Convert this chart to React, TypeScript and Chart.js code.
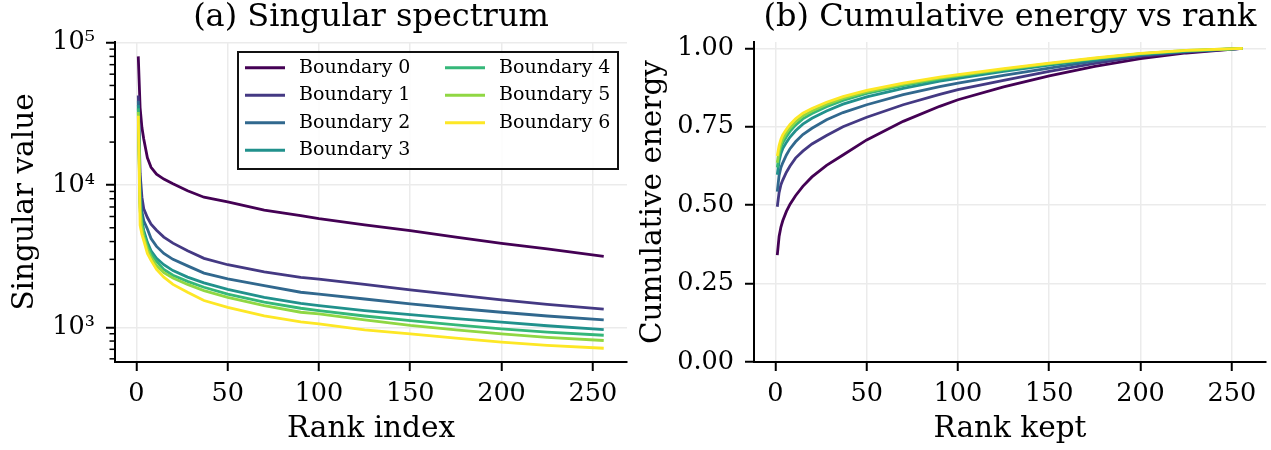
import React, { useEffect, useRef } from 'react';
import { Chart, registerables } from 'chart.js';

Chart.register(...registerables);

const FONT = '"DejaVu Serif", serif';

const RANKS = [1, 2, 3, 4, 6, 8, 11, 15, 20, 28, 37, 50, 70, 90, 100, 125, 150, 175, 200, 225, 256];

const LABELS = ['Boundary 0', 'Boundary 1', 'Boundary 2', 'Boundary 3', 'Boundary 4', 'Boundary 5', 'Boundary 6'];
const COLORS = ['#440154', '#443983', '#31688e', '#21918c', '#35b779', '#90d743', '#fde725'];

// (a) Singular values per boundary
const SV_B0 = [80000, 35000, 25300, 21000, 15500, 13300, 11900, 11000, 10200, 9100, 8200, 7600, 6650, 6080, 5800, 5250, 4780, 4300, 3890, 3550, 3150];
const SV_B1 = [42500, 12000, 8200, 6800, 5900, 5300, 4800, 4300, 3900, 3450, 3050, 2750, 2450, 2245, 2180, 2000, 1830, 1690, 1560, 1450, 1340];
const SV_B2 = [39000, 9000, 6500, 5600, 4900, 4200, 3700, 3300, 3000, 2700, 2400, 2190, 1960, 1762, 1710, 1580, 1460, 1360, 1275, 1200, 1125];
const SV_B3 = [36500, 7600, 5600, 4800, 3950, 3450, 3050, 2750, 2500, 2250, 2050, 1845, 1620, 1470, 1420, 1310, 1225, 1150, 1085, 1025, 963];
const SV_B4 = [34500, 7100, 5300, 4550, 3750, 3280, 2900, 2550, 2320, 2100, 1910, 1710, 1500, 1360, 1310, 1200, 1114, 1040, 975, 925, 879];
const SV_B5 = [32500, 6600, 5000, 4300, 3550, 3100, 2700, 2420, 2220, 2000, 1811, 1620, 1420, 1275, 1242, 1125, 1030, 960, 898, 850, 807];
const SV_B6 = [30600, 5200, 4500, 4070, 3300, 2950, 2550, 2250, 2000, 1760, 1542, 1380, 1200, 1090, 1056, 960, 898, 840, 785, 745, 712];

// (b) Cumulative energy per boundary
const CE_B0 = [0.341, 0.40, 0.43, 0.45, 0.48, 0.503, 0.53, 0.56, 0.59, 0.627, 0.66, 0.708, 0.767, 0.815, 0.836, 0.877, 0.912, 0.942, 0.967, 0.985, 1.0];
const CE_B1 = [0.495, 0.54, 0.565, 0.58, 0.605, 0.625, 0.65, 0.672, 0.695, 0.722, 0.75, 0.78, 0.82, 0.853, 0.868, 0.898, 0.926, 0.952, 0.974, 0.988, 1.0];
const CE_B2 = [0.543, 0.595, 0.62, 0.635, 0.66, 0.68, 0.702, 0.725, 0.745, 0.772, 0.795, 0.82, 0.852, 0.878, 0.889, 0.914, 0.937, 0.959, 0.978, 0.99, 1.0];
const CE_B3 = [0.597, 0.64, 0.665, 0.68, 0.70, 0.717, 0.737, 0.758, 0.777, 0.80, 0.822, 0.845, 0.872, 0.895, 0.904, 0.926, 0.946, 0.964, 0.98, 0.991, 1.0];
const CE_B4 = [0.62, 0.66, 0.683, 0.698, 0.718, 0.735, 0.755, 0.775, 0.792, 0.814, 0.834, 0.856, 0.881, 0.902, 0.911, 0.931, 0.95, 0.967, 0.982, 0.992, 1.0];
const CE_B5 = [0.635, 0.673, 0.695, 0.71, 0.73, 0.746, 0.765, 0.784, 0.80, 0.821, 0.84, 0.861, 0.885, 0.905, 0.913, 0.933, 0.951, 0.968, 0.983, 0.993, 1.0];
const CE_B6 = [0.657, 0.69, 0.71, 0.724, 0.742, 0.757, 0.775, 0.793, 0.808, 0.828, 0.846, 0.866, 0.889, 0.908, 0.916, 0.935, 0.953, 0.969, 0.984, 0.993, 1.0];

const SV_SERIES = [SV_B0, SV_B1, SV_B2, SV_B3, SV_B4, SV_B5, SV_B6];
const CE_SERIES = [CE_B0, CE_B1, CE_B2, CE_B3, CE_B4, CE_B5, CE_B6];

const X_TICKS = [0, 50, 100, 150, 200, 250];
const SV_TICKS = [1000, 10000, 100000];
const SV_TICK_LABELS = ['10³', '10⁴', '10⁵'];
const CE_TICKS = [0, 0.25, 0.5, 0.75, 1.0];

const GRID_COLOR = '#ebebeb';
const TICK_SIZE = 25.5;
const LABEL_SIZE = 29.5;
const TITLE_SIZE = 32;

function makeDatasets(series: number[][]) {
  return series.map((vals, i) => ({
    label: LABELS[i],
    data: RANKS.map((r, j) => ({ x: r, y: vals[j] })),
    borderColor: COLORS[i],
    backgroundColor: COLORS[i],
    borderWidth: 2.8,
    pointRadius: 0,
    tension: 0,
    fill: false,
    order: series.length - 1 - i,
  }));
}

const minorTicksPlugin = {
  id: 'minorTicks',
  afterDraw(chart: any) {
    const s = chart.scales.y;
    const ctx = chart.ctx;
    ctx.save();
    ctx.strokeStyle = '#000';
    ctx.lineWidth = 1.5;
    for (let e = 2; e <= 5; e++) {
      for (let m = 2; m <= 9; m++) {
        const v = m * Math.pow(10, e);
        if (v < s.min || v > s.max) continue;
        const y = s.getPixelForValue(v);
        ctx.beginPath();
        ctx.moveTo(s.right - 5.5, y);
        ctx.lineTo(s.right, y);
        ctx.stroke();
      }
    }
    ctx.restore();
  },
};

const columnLegendPlugin = {
  id: 'columnLegend',
  afterDatasetsDraw(chart: any) {
    const { ctx, chartArea } = chart;
    const ds = chart.data.datasets;
    const w = 380;
    const h = 117;
    const left = chartArea.right - 9 - w;
    const top = chartArea.top + 10;
    ctx.save();
    ctx.fillStyle = 'rgba(255,255,255,0.9)';
    ctx.fillRect(left, top, w, h);
    ctx.strokeStyle = '#111';
    ctx.lineWidth = 2;
    ctx.strokeRect(left, top, w, h);
    ctx.font = '19px ' + FONT;
    ctx.textBaseline = 'middle';
    ctx.textAlign = 'left';
    ds.forEach((d: any, i: number) => {
      const col = Math.floor(i / 4);
      const row = i % 4;
      const x0 = left + 7 + col * 200;
      const y = top + 15.7 + row * 27.5;
      ctx.strokeStyle = d.borderColor;
      ctx.lineWidth = 3;
      ctx.beginPath();
      ctx.moveTo(x0, y);
      ctx.lineTo(x0 + 40, y);
      ctx.stroke();
      ctx.fillStyle = '#000';
      ctx.fillText(d.label, x0 + 54, y);
    });
    ctx.restore();
  },
};

function xScale(title: string) {
  return {
    type: 'linear',
    min: -11.75,
    max: 268.75,
    afterBuildTicks: (s: any) => {
      s.ticks = X_TICKS.map((v) => ({ value: v }));
    },
    afterFit: (s: any) => {
      s.height = 88;
    },
    grid: { color: GRID_COLOR, lineWidth: 1.5, drawTicks: true, tickLength: 9, tickColor: '#000', tickWidth: 2 },
    border: { display: true, color: '#000', width: 2 },
    ticks: {
      font: { family: FONT, size: TICK_SIZE },
      color: '#000',
      padding: 8,
      maxRotation: 0,
      autoSkip: false,
      callback: (v: any) => String(v),
    },
    title: { display: true, text: title, font: { family: FONT, size: LABEL_SIZE }, color: '#000', padding: { top: 0, bottom: 2.5 } },
  };
}

function titleOpts(text: string) {
  return {
    display: true,
    text,
    fullSize: false,
    font: { family: FONT, size: TITLE_SIZE, weight: 'normal', lineHeight: 1.1 },
    color: '#000',
    padding: { top: 0, bottom: 6.8 },
  };
}

function SingularChart() {
  const ref = useRef<HTMLCanvasElement>(null);
  useEffect(() => {
    const chart = new Chart(ref.current as HTMLCanvasElement, {
      type: 'line',
      data: { datasets: makeDatasets(SV_SERIES) as any },
      plugins: [minorTicksPlugin, columnLegendPlugin],
      options: {
        responsive: false,
        animation: false,
        devicePixelRatio: 1,
        layout: { padding: { left: 0, right: 9, top: 0, bottom: 0 } },
        plugins: {
          legend: { display: false },
          tooltip: { enabled: false },
          title: titleOpts('(a) Singular spectrum') as any,
        },
        scales: {
          x: xScale('Rank index') as any,
          y: {
            type: 'logarithmic',
            min: 570,
            max: 101000,
            afterBuildTicks: (s: any) => {
              s.ticks = SV_TICKS.map((v) => ({ value: v }));
            },
            afterFit: (s: any) => {
              s.width = 115;
            },
            grid: { color: GRID_COLOR, lineWidth: 1.5, drawTicks: true, tickLength: 9, tickColor: '#000', tickWidth: 2 },
            border: { display: true, color: '#000', width: 2 },
            ticks: {
              font: { family: FONT, size: TICK_SIZE },
              color: '#000',
              padding: 11,
              autoSkip: false,
              callback: (v: any) => {
                const i = SV_TICKS.indexOf(Number(v));
                return i >= 0 ? SV_TICK_LABELS[i] : '';
              },
            },
            title: { display: true, text: 'Singular value', font: { family: FONT, size: LABEL_SIZE }, color: '#000', padding: { top: 8, bottom: 0 } },
          } as any,
        },
      },
    });
    return () => chart.destroy();
  }, []);
  return <canvas ref={ref} width={636} height={450} style={{ position: 'absolute', left: 0, top: 0, display: 'block' }} />;
}

function EnergyChart() {
  const ref = useRef<HTMLCanvasElement>(null);
  useEffect(() => {
    const chart = new Chart(ref.current as HTMLCanvasElement, {
      type: 'line',
      data: { datasets: makeDatasets(CE_SERIES) as any },
      options: {
        responsive: false,
        animation: false,
        devicePixelRatio: 1,
        layout: { padding: { left: 0, right: 5, top: 0, bottom: 0 } },
        plugins: {
          legend: { display: false },
          tooltip: { enabled: false },
          title: titleOpts('(b) Cumulative energy vs rank') as any,
        },
        scales: {
          x: xScale('Rank kept') as any,
          y: {
            type: 'linear',
            min: 0,
            max: 1.02,
            afterBuildTicks: (s: any) => {
              s.ticks = CE_TICKS.map((v) => ({ value: v }));
            },
            afterFit: (s: any) => {
              s.width = 118;
            },
            grid: { color: GRID_COLOR, lineWidth: 1.5, drawTicks: true, tickLength: 9, tickColor: '#000', tickWidth: 2 },
            border: { display: true, color: '#000', width: 2 },
            ticks: {
              font: { family: FONT, size: TICK_SIZE },
              color: '#000',
              padding: 11,
              autoSkip: false,
              callback: (v: any) => Number(v).toFixed(2),
            },
            title: { display: true, text: 'Cumulative energy', font: { family: FONT, size: LABEL_SIZE }, color: '#000', padding: { top: 0, bottom: 0 } },
          } as any,
        },
      },
    });
    return () => chart.destroy();
  }, []);
  return <canvas ref={ref} width={635} height={450} style={{ position: 'absolute', left: 636, top: 0, display: 'block' }} />;
}

export default function App() {
  return (
    <div style={{ position: 'absolute', left: 0, top: 0, width: 1271, height: 450, background: '#fff', overflow: 'hidden' }}>
      <SingularChart />
      <EnergyChart />
    </div>
  );
}
